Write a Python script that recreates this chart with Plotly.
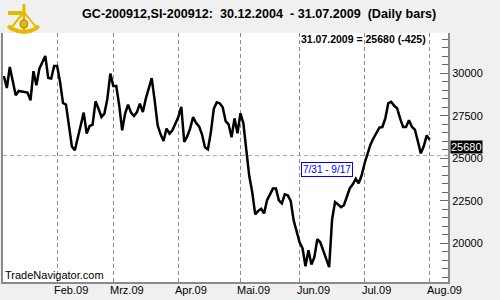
import pandas as pd
import plotly.graph_objects as go

# ---------------- data ----------------
start_date = "2009-01-05"
end_date = "2009-07-31"
holidays = ["2009-01-19", "2009-02-16", "2009-04-10", "2009-05-25", "2009-07-03"]

spread_values = [
    29840, 29135, 30370, 29490, 28710, 28960, 28920, 28900, 28865, 28410,
    30120, 29290, 30275, 30650, 31020, 29725, 29690, 30430, 30430,
    29490, 28250, 28160, 26940, 25700, 25470, 26250, 27000, 27690, 26450,
    26900, 26980, 28350, 27920, 27430, 27630, 28510, 29980, 29250, 29250,
    28120, 26650, 27630, 28160, 27690, 27490, 27720, 28220, 27720, 28510,
    29120, 29720, 28410, 26940, 26410, 26020, 26750, 26450, 26650, 27000,
    27430, 28020, 25960, 26290, 26760, 27430, 27080, 26880, 26410, 25650,
    25530, 26530, 27920, 28290, 28240, 28000, 27180, 27000, 26240, 27350,
    26470, 27650, 27060, 25470, 23940, 23000, 21700, 21910, 22030, 21760,
    22530, 22880, 23220, 23220, 22530, 22350, 22880, 22820, 22500, 21350,
    20770, 20060, 19710, 18650, 19590, 18750, 19180, 20240, 20060, 19590,
    19000, 18600, 21400, 22430, 22290, 22120, 22240, 22710, 23240, 23470,
    23800, 23530, 24000, 24710, 25290, 25820, 26180, 26470, 26810, 26840,
    27350, 28240, 28320, 28090, 27940, 27350, 26840, 26840, 27240, 26850,
    26680, 26000, 25290, 25710, 26350, 26090, 25680,
]

month_grid_dates = ["2009-01-30", "2009-02-27", "2009-03-31", "2009-04-30",
                    "2009-05-29", "2009-06-30", "2009-07-31"]
month_labels = ["Feb.09", "Mrz.09", "Apr.09", "Mai.09", "Jun.09", "Jul.09", "Aug.09"]

y_tick_values = [20000, 22500, 25000, 27500, 30000]
y_tick_labels = ["20000", "22500", "25000", "27500", "30000"]

last_value = 25680
ref_line_value = 25160
title_text = "GC-200912,SI-200912:\u00a0\u00a030.12.2004\u00a0\u00a0- 31.07.2009\u00a0\u00a0(Daily bars)"
info_text = "31.07.2009 = 25680 (-425)"
box_text = "7/31 - 9/17"
brand_text = "TradeNavigator.com"

# ---------------- build ----------------
dates = pd.bdate_range(start_date, end_date, freq="C", holidays=holidays)
date_cats = [d.strftime("%Y-%m-%d") for d in dates]
n = min(len(date_cats), len(spread_values))
date_cats = date_cats[:n]
spread_values = spread_values[:n]

FONT = "Liberation Sans, Arial, sans-serif"
W, H = 500, 300
ML, MR, MT, MB = 1, 52, 33, 18
PW, PH = W - ML - MR, H - MT - MB
SHIFT = -4  # compensate annotation inner padding


def px_x(px):
    return (px - ML) / PW


def px_y(py):
    return (H - MB - py) / PH


fig = go.Figure()
fig.add_trace(go.Scatter(
    x=date_cats, y=spread_values, mode="lines",
    line=dict(color="black", width=2.5), hoverinfo="skip", showlegend=False,
))

fig.update_layout(
    width=W, height=H,
    margin=dict(l=ML, r=MR, t=MT, b=MB, pad=0),
    paper_bgcolor="#f0f0f0", plot_bgcolor="white",
    font=dict(family=FONT, size=11, color="black"),
    showlegend=False,
    xaxis=dict(
        type="category", categoryorder="array", categoryarray=date_cats,
        range=[-0.3, 150.2],
        tickmode="array", tickvals=month_grid_dates, ticktext=["" for _ in month_grid_dates],
        showticklabels=False, ticks="",
        showgrid=True, gridcolor="#8c8c8c", gridwidth=1, griddash="4px,3px",
        showline=True, linecolor="#8a8a8a", linewidth=2,
        zeroline=False, fixedrange=True,
    ),
    yaxis=dict(
        side="right", range=[17724, 32370],
        tickmode="array", tickvals=y_tick_values, ticktext=y_tick_labels,
        ticks="inside", ticklen=8, tickcolor="#6a6a6a", tickwidth=1,
        minor=dict(dtick=500, tick0=0, ticks="inside", ticklen=6,
                   tickcolor="#6a6a6a", tickwidth=1, showgrid=False),
        showgrid=False, zeroline=False,
        showline=True, linecolor="#8a8a8a", linewidth=2, mirror=True,
        tickfont=dict(family=FONT, size=11, color="black"),
        fixedrange=True,
    ),
)

# horizontal dashed reference line
fig.add_shape(type="line", xref="paper", yref="y", x0=0, x1=1,
              y0=ref_line_value, y1=ref_line_value,
              line=dict(color="#a8a8a8", width=1, dash="4px,3px"), layer="below")

annotations = []
# month labels (left aligned at the grid lines)
for d, lab in zip(month_grid_dates, month_labels):
    annotations.append(dict(
        x=date_cats.index(d), xref="x", y=px_y(290), yref="paper",
        text=lab, showarrow=False, xanchor="left", yanchor="middle", xshift=-5,
        font=dict(family=FONT, size=11, color="black"),
    ))
# title
annotations.append(dict(
    x=px_x(82), xref="paper", y=px_y(14), yref="paper", text="<b>" + title_text + "</b>",
    showarrow=False, xanchor="left", yanchor="middle", xshift=SHIFT,
    font=dict(family=FONT, size=12.6, color="black"),
))
# info line
annotations.append(dict(
    x=px_x(300), xref="paper", y=px_y(39), yref="paper", text="<b>" + info_text + "</b>",
    showarrow=False, xanchor="left", yanchor="middle", xshift=-2,
    font=dict(family=FONT, size=10.5, color="black"),
))
# blue box
annotations.append(dict(
    x=px_x(300), xref="paper", y=px_y(162), yref="paper", text=box_text,
    showarrow=False, xanchor="left", yanchor="top",
    font=dict(family=FONT, size=10, color="#0000ff"),
    bgcolor="white", bordercolor="#0000ff", borderwidth=1, borderpad=1,
))
# last value label
annotations.append(dict(
    x=1, xref="paper", y=last_value, yref="y", text=str(last_value),
    showarrow=False, xanchor="left", yanchor="middle", xshift=2,
    font=dict(family=FONT, size=11, color="white"),
    bgcolor="black", borderpad=0,
))
# brand
annotations.append(dict(
    x=px_x(5), xref="paper", y=px_y(275), yref="paper", text=brand_text,
    showarrow=False, xanchor="left", yanchor="middle", xshift=SHIFT,
    font=dict(family=FONT, size=11, color="black"),
))
fig.update_layout(annotations=annotations)

# small golden sextant-like logo
gold = "#e6b800"
def P(px, py):
    return px_x(px), px_y(py)

arc_pts = [(6, 26), (10, 29), (16, 31), (22, 32), (28, 31), (33, 29), (37, 26)]
path = "M " + " L ".join(f"{px_x(a)},{px_y(b)}" for a, b in arc_pts)
fig.add_shape(type="path", xref="paper", yref="paper", path=path,
              line=dict(color=gold, width=4))
for (a0, b0, a1, b1, w) in [(22, 4, 22, 30, 3), (6, 13, 20, 13, 4), (22, 12, 9, 28, 2), (22, 12, 34, 27, 2)]:
    x0, y0 = P(a0, b0)
    x1, y1 = P(a1, b1)
    fig.add_shape(type="line", xref="paper", yref="paper", x0=x0, y0=y0, x1=x1, y1=y1,
                  line=dict(color=gold, width=w))
cx0, cy0 = P(18, 20)
cx1, cy1 = P(26, 28)
fig.add_shape(type="circle", xref="paper", yref="paper", x0=cx0, y0=cy0, x1=cx1, y1=cy1,
              line=dict(color="#b08800", width=1), fillcolor=gold)

fig.write_html("out.html")
